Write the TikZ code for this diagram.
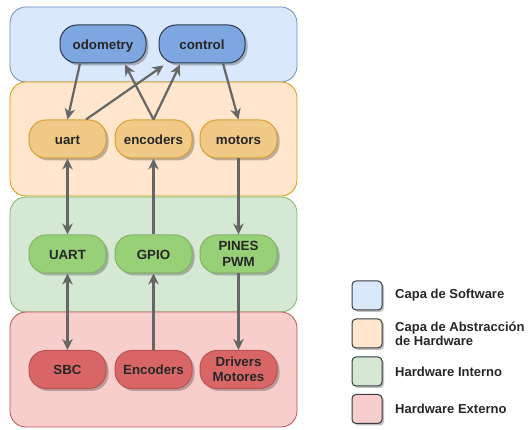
\documentclass[tikz,border=0pt]{standalone}
\usepackage{fontspec}
\setmainfont{Liberation Sans}
\usetikzlibrary{arrows.meta,shadows}
\definecolor{arrowgray}{HTML}{666666}
\definecolor{txt}{HTML}{262626}
\definecolor{swfill}{HTML}{DAE8FC}\definecolor{swdraw}{HTML}{6C8EBF}
\definecolor{hafill}{HTML}{FFE6CC}\definecolor{hadraw}{HTML}{D79B00}
\definecolor{hifill}{HTML}{D5E8D4}\definecolor{hidraw}{HTML}{82B366}
\definecolor{hefill}{HTML}{F8CECC}\definecolor{hedraw}{HTML}{B85450}
\definecolor{nblue}{HTML}{7EA6E0}\definecolor{nbluedraw}{HTML}{2B3A4F}
\definecolor{norange}{HTML}{F0C987}\definecolor{norangedraw}{HTML}{D6A030}
\definecolor{ngreen}{HTML}{97D077}\definecolor{ngreendraw}{HTML}{82B366}
\definecolor{nred}{HTML}{D96666}\definecolor{nreddraw}{HTML}{B85450}
\definecolor{legdraw}{HTML}{36393D}
\tikzset{
  layer/.style={rounded corners=16pt, line width=0.8pt},
  blk/.style={rounded corners=17pt, minimum height=38pt, minimum width=77pt,
    font=\fontsize{13.3}{15.4}\selectfont\bfseries, text=txt, align=center,
    line width=1pt, inner sep=1pt,
    drop shadow={shadow xshift=2.5pt, shadow yshift=-2.5pt, opacity=0.25, fill=black}},
  one/.style={text height=11.4pt, text depth=0.5pt},
  bluen/.style={blk, one, fill=nblue, draw=nbluedraw, minimum width=86pt},
  orangen/.style={blk, one, fill=norange, draw=norangedraw},
  greenn/.style={blk, fill=ngreen, draw=ngreendraw},
  redn/.style={blk, fill=nred, draw=nreddraw},
  conn/.style={draw=arrowgray, line width=2.2pt, -{Stealth[length=11pt,width=10.5pt,inset=3.5pt]}},
  biconn/.style={draw=arrowgray, line width=2.2pt, {Stealth[length=11pt,width=10.5pt,inset=3.5pt]}-{Stealth[length=11pt,width=10.5pt,inset=3.5pt]}},
  legbox/.style={rounded corners=4pt, draw=legdraw, line width=1pt, minimum width=30pt, minimum height=29pt,
    drop shadow={shadow xshift=2pt, shadow yshift=-2pt, opacity=0.25, fill=black}},
  legtxt/.style={anchor=west, font=\fontsize{13}{13.5}\selectfont\bfseries, text=txt, align=left, inner sep=0pt}
}
\begin{document}
\begin{tikzpicture}[x=1pt,y=-1pt]
\useasboundingbox (0,0) rectangle (528,430);
% layers
\draw[layer, fill=swfill, draw=swdraw] (10,7) rectangle (297,82);
\draw[layer, fill=hafill, draw=hadraw] (10,82) rectangle (297,196);
\draw[layer, fill=hifill, draw=hidraw] (10,197) rectangle (297,312);
\draw[layer, fill=hefill, draw=hedraw] (10,312) rectangle (297,427);
% nodes
\node[bluen] (odom) at (103,44) {odometry};
\node[bluen] (ctrl) at (202,44) {control};
\node[orangen] (uart) at (67.5,139) {uart};
\node[orangen] (enc) at (153.5,139) {encoders};
\node[orangen] (mot) at (238.5,139) {motors};
\node[greenn, one] (UART) at (67.5,254) {UART};
\node[greenn, one] (GPIO) at (153.5,254) {GPIO};
\node[greenn] (PWM) at (238.5,254) {PINES\\PWM};
\node[redn, one] (SBC) at (67.5,369.5) {SBC};
\node[redn, one] (ENC) at (153.5,369.5) {Encoders};
\node[redn] (DRV) at (238.5,369.5) {Drivers\\Motores};
% connectors
\draw[conn] ([xshift=-23pt]odom.south) -- (uart.north);
\draw[conn] ([xshift=18.5pt]uart.north) -- ([xshift=5pt,yshift=-2pt]ctrl.south west);
\draw[conn] (enc.north) -- ([xshift=22pt,yshift=-1pt]odom.south);
\draw[conn] (enc.north) -- ([xshift=-22pt,yshift=-1pt]ctrl.south);
\draw[conn] ([xshift=21pt]ctrl.south) -- (mot.north);
\draw[biconn] (uart.south) -- (UART.north);
\draw[conn] (GPIO.north) -- (enc.south);
\draw[conn] (mot.south) -- (PWM.north);
\draw[biconn] (UART.south) -- (SBC.north);
\draw[conn] (ENC.north) -- (GPIO.south);
\draw[conn] (PWM.south) -- (DRV.north);
% legend
\node[legbox, fill=swfill] (l1) at (367,295.5) {};
\node[legbox, fill=hafill] (l2) at (367,333.5) {};
\node[legbox, fill=hifill] (l3) at (367,371.5) {};
\node[legbox, fill=hefill] (l4) at (367,409) {};
\node[legtxt] (t1) at (395,295.5) {Capa de Software};
\node[legtxt] (t2) at (395,334) {Capa de Abstracción\\de Hardware};
\node[legtxt] (t3) at (395,372) {Hardware Interno};
\node[legtxt] (t4) at (395,408.5) {Hardware Externo};
\end{tikzpicture}
\end{document}
